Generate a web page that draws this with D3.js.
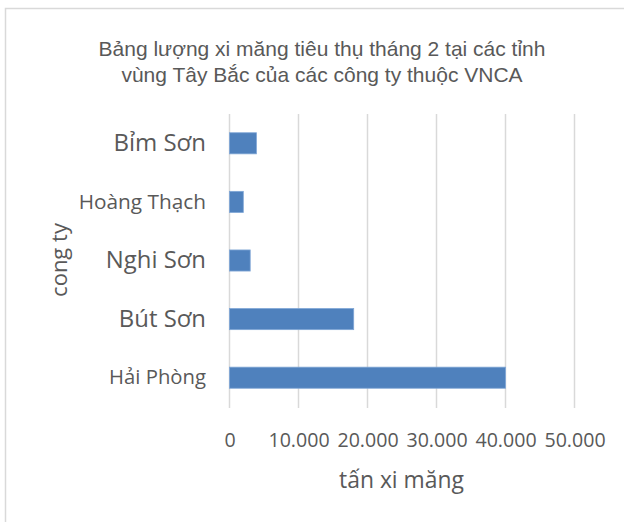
<!DOCTYPE html>
<html><head><meta charset="utf-8">
<script src="https://cdn.jsdelivr.net/npm/d3@7"></script>
<style>body{margin:0;background:#fff}svg{display:block}</style>
</head><body>
<svg id="c" width="624" height="522"></svg>
<script>
const categories = ["Hải Phòng", "Bút Sơn", "Nghi Sơn", "Hoàng Thạch", "Bỉm Sơn"];
const values = [40000, 18000, 3000, 2000, 3900];
const tickValues = [0, 10000, 20000, 30000, 40000, 50000];
const tickLabels = ["0", "10.000", "20.000", "30.000", "40.000", "50.000"];
const titleLines = ["Bảng lượng xi măng tiêu thụ tháng 2 tại các tỉnh", "vùng Tây Bắc của các công ty thuộc VNCA"];
const xTitle = "tấn xi măng";
const yTitle = "cong ty";
const labelSizes = {"Hải Phòng": 20.3, "Bút Sơn": 23.9, "Nghi Sơn": 23.9, "Hoàng Thạch": 20.8, "Bỉm Sơn": 24};

const svg = d3.select("#c");
const txt = "#595959";
const axisFont = "'Open Sans', 'Noto Sans', sans-serif";

// frame
svg.append("path").attr("d", "M5.5,530 V8.5 H640").attr("fill", "none").attr("stroke", "#d9d9d9").attr("stroke-width", 1.5);

// title
svg.append("text").attr("text-anchor", "middle").attr("fill", txt)
  .style("font-family", "'Liberation Sans', Arial, sans-serif").style("font-size", "21px")
  .selectAll("tspan").data(titleLines).join("tspan")
  .attr("x", 322).attr("y", (d, i) => 56 + i * 26).text(d => d);

const x = d3.scaleLinear().domain([0, 50000]).range([229.5, 574.5]);
const y = d3.scaleBand().domain(categories.slice().reverse()).range([114, 407]).paddingInner(0.64).paddingOuter(0.32);

// gridlines
svg.append("g").selectAll("line").data(tickValues).join("line")
  .attr("x1", d => x(d)).attr("x2", d => x(d)).attr("y1", 114).attr("y2", 408)
  .attr("stroke", "#d9d9d9").attr("stroke-width", 1.5);

// bars
svg.append("g").selectAll("rect").data(categories).join("rect")
  .attr("x", x(0)).attr("y", d => y(d))
  .attr("width", (d, i) => x(values[i]) - x(0)).attr("height", y.bandwidth())
  .attr("fill", "#4f81bd").attr("stroke", "#7fa6d6").attr("stroke-width", 0.8);

// x axis tick labels
const xAxis = d3.axisBottom(x).tickValues(tickValues).tickSize(0).tickPadding(0)
  .tickFormat((d, i) => tickLabels[i]);
const gx = svg.append("g").attr("transform", "translate(0,433)").call(xAxis);
gx.select(".domain").remove();
gx.selectAll("text").attr("fill", txt).style("font-family", axisFont).style("font-size", "19.6px");

// y axis category labels
const yAxis = d3.axisLeft(y).tickSize(0).tickPadding(0);
const gy = svg.append("g").attr("transform", "translate(206,0)").call(yAxis);
gy.select(".domain").remove();
gy.selectAll("text").attr("fill", txt).style("font-family", axisFont)
  .style("font-size", d => labelSizes[d] + "px");

// axis titles
svg.append("text").attr("x", 401.5).attr("y", 488).attr("text-anchor", "middle").attr("fill", txt)
  .style("font-family", axisFont).style("font-size", "22.9px").text(xTitle);
svg.append("text").attr("transform", "translate(67,260) rotate(-90)").attr("text-anchor", "middle").attr("fill", txt)
  .style("font-family", axisFont).style("font-size", "22px").text(yTitle);
</script>
</body></html>
